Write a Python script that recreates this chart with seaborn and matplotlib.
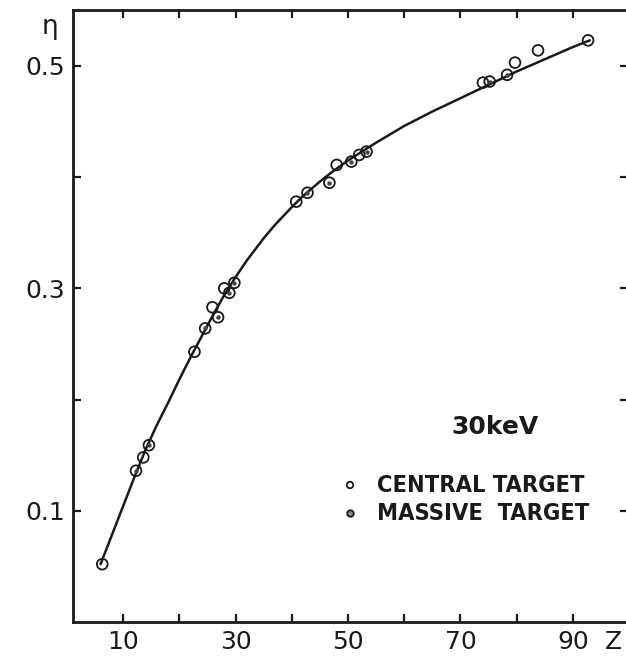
import matplotlib
matplotlib.use("Agg")
import matplotlib.pyplot as plt
import seaborn as sns
import pandas as pd

# Backscattering coefficient eta versus atomic number Z at 30 keV
central_z = [6.3, 13.6, 22.7, 25.9, 28.0, 40.8, 48.0, 52.0, 74.0, 79.7, 83.8, 92.7]
central_eta = [0.052, 0.148, 0.243, 0.283, 0.300, 0.378, 0.411, 0.420, 0.485, 0.503, 0.514, 0.523]

massive_z = [12.3, 14.6, 24.6, 26.9, 28.9, 29.8, 42.8, 46.7, 50.6, 53.3, 75.2, 78.3]
massive_eta = [0.136, 0.159, 0.264, 0.274, 0.296, 0.305, 0.386, 0.395, 0.414, 0.423, 0.486, 0.492]

# Drawn mean curve
curve_z = [6, 8, 10, 12, 14, 16, 18, 20, 22, 24, 26, 28, 30, 32, 35, 37, 40, 42, 45,
           47, 50, 55, 60, 65, 70, 75, 80, 85, 90, 93]
curve_eta = [0.052, 0.078, 0.104, 0.130, 0.155, 0.177, 0.197, 0.218, 0.238, 0.257,
             0.276, 0.294, 0.310, 0.325, 0.345, 0.357, 0.373, 0.383, 0.396, 0.404,
             0.415, 0.431, 0.446, 0.459, 0.471, 0.483, 0.495, 0.506, 0.517, 0.523]

x_ticks = [10, 20, 30, 40, 50, 60, 70, 80, 90]
x_tick_labels = ["10", "", "30", "", "50", "", "70", "", "90"]
y_ticks = [0.1, 0.2, 0.3, 0.4, 0.5]
y_tick_labels = ["0.1", "", "0.3", "", "0.5"]

energy_label = "30keV"
legend_labels = ["CENTRAL TARGET", "MASSIVE  TARGET"]

sns.set_style("ticks")
plt.rcParams["font.family"] = ["DejaVu Sans"]

W, H = 626, 658
fig = plt.figure(figsize=(W / 100, H / 100), dpi=100)
ax = fig.add_axes([73 / W, 36 / H, (628 - 73) / W, (648 - 36) / H])

curve = pd.DataFrame({"Z": curve_z, "eta": curve_eta})
central = pd.DataFrame({"Z": central_z, "eta": central_eta})
massive = pd.DataFrame({"Z": massive_z, "eta": massive_eta})

ink = "#1a1a1a"
sns.lineplot(data=curve, x="Z", y="eta", ax=ax, color=ink, linewidth=1.8, sort=True)
sns.scatterplot(data=central, x="Z", y="eta", ax=ax, s=60, marker="o",
                facecolor="none", edgecolor=ink, linewidth=1.3, zorder=3)
sns.scatterplot(data=massive, x="Z", y="eta", ax=ax, s=60, marker="o",
                facecolor="none", edgecolor=ink, linewidth=1.3, zorder=3)
# centre dot marking the massive-target points
ax.scatter(massive["Z"], massive["eta"], s=10, marker="o", color="#444444",
           linewidths=0, zorder=4)

ax.set_xlim(1.1, 99.8)
ax.set_ylim(0.0, 0.5503)
ax.set_xticks(x_ticks)
ax.set_xticklabels(x_tick_labels)
ax.set_yticks(y_ticks)
ax.set_yticklabels(y_tick_labels)
ax.set_xlabel("")
ax.set_ylabel("")

for side in ["left", "right", "top", "bottom"]:
    ax.spines[side].set_visible(True)
    ax.spines[side].set_linewidth(2.0)
    ax.spines[side].set_color(ink)

ax.tick_params(direction="in", length=6, width=1.6, top=True, right=True,
               labelsize=18, colors=ink, pad=6)

# Axis symbols
fig.text(50 / W, 1 - 27 / H, "η", fontsize=19, ha="center", va="center", color=ink)
fig.text(613 / W, 1 - 642 / H, "Z", fontsize=18, ha="center", va="center", color=ink)

# Energy annotation and key
fig.text(495 / W, 1 - 427 / H, energy_label, fontsize=18, fontweight="bold",
         ha="center", va="center", color=ink)
fig.text(377 / W, 1 - 485 / H, legend_labels[0], fontsize=16.9, ha="left",
         va="center", color=ink, fontweight="bold", fontstretch="condensed")
fig.text(377 / W, 1 - 513 / H, legend_labels[1], fontsize=16.9, ha="left",
         va="center", color=ink, fontweight="bold", fontstretch="condensed")

key_ax = fig.add_axes([0, 0, 1, 1], facecolor="none")
key_ax.set_axis_off()
key_ax.set_xlim(0, W)
key_ax.set_ylim(H, 0)
key_ax.scatter([350], [485], s=22, marker="o", facecolor="none", edgecolor=ink, linewidth=1.3)
key_ax.scatter([350], [513], s=22, marker="o", facecolor="#888888", edgecolor=ink, linewidth=1.3)

fig.savefig("out.png", dpi=100)
